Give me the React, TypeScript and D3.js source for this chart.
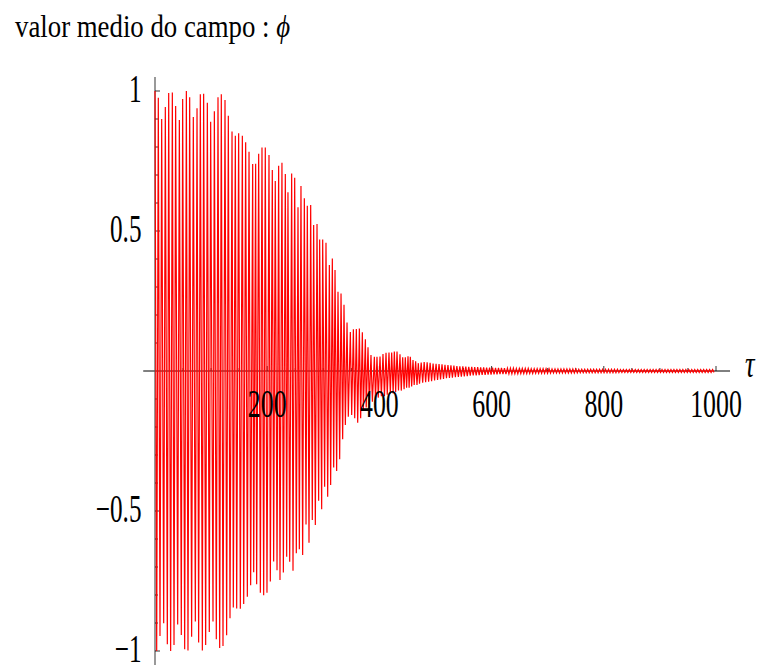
import React, { useEffect, useRef } from 'react';
import * as d3 from 'd3';

// upper peaks (maxima)
const upperTau = [0, 5.9, 11.9, 18.4, 24.4, 30.9, 36.8, 43.4, 49.3, 55.9, 61.8, 68.3, 74.9, 80.8, 86.7, 93.3, 99.2, 105.8, 112.3, 118.2,
  124.8, 130.7, 137.3, 143.2, 149.1, 155.7, 161.6, 167.6, 174.1, 179.4, 184.8, 190.7, 196.6, 203.2, 209.1, 214.4, 220.4, 226.3, 232.3, 237.0,
  243.6, 249.0, 254.9, 260.2, 266.2, 271.5, 277.5, 282.8, 288.8, 293.5, 298.9, 304.8, 310.8, 316.1, 320.9, 326.2, 331.6, 336.9, 342.3, 348.2,
  353.6, 358.9, 364.3, 369.6, 375.0, 379.7, 385.0, 391.0, 395.7, 401.1, 406.4, 411.8, 417.1, 421.9, 426.6, 431.4, 436.7, 441.5, 446.2, 451.0,
  455.1, 459.9, 464.6, 469.4];
const upperPhi = [1.0, 0.976, 0.90, 0.943, 0.993, 0.995, 0.946, 0.896, 0.971, 1.0, 0.978, 0.907, 0.938, 0.988, 0.99, 0.958, 0.89, 0.928, 0.978, 0.988,
  0.968, 0.912, 0.855, 0.84, 0.849, 0.84, 0.817, 0.783, 0.739, 0.74, 0.776, 0.798, 0.798, 0.771, 0.718, 0.679, 0.733, 0.744, 0.704, 0.638,
  0.705, 0.69, 0.585, 0.661, 0.617, 0.59, 0.593, 0.521, 0.525, 0.47, 0.47, 0.458, 0.379, 0.402, 0.361, 0.283, 0.277, 0.237, 0.173, 0.139,
  0.149, 0.15, 0.152, 0.138, 0.113, 0.085, 0.057, 0.051, 0.051, 0.052, 0.061, 0.065, 0.066, 0.066, 0.07, 0.07, 0.06, 0.049, 0.049, 0.053,
  0.051, 0.039, 0.035, 0.028];

// lower peaks (minima)
const lowerTau = [3.0, 8.9, 15.5, 22.0, 27.9, 33.9, 40.4, 46.9, 52.9, 58.8, 65.3, 71.9, 77.8, 84.4, 90.3, 96.8, 103.4, 109.3, 115.3, 121.2,
  127.7, 133.7, 139.6, 145.6, 152.1, 158.1, 164.6, 170.5, 175.9, 181.2, 187.8, 193.7, 199.6, 205.6, 211.5, 217.5, 222.8, 228.8, 234.7, 240.1,
  246.0, 251.9, 257.3, 263.2, 269.2, 274.5, 280.4, 285.8, 291.7, 297.1, 302.4, 307.8, 313.1, 318.5, 323.8, 329.2, 334.5, 339.3, 344.6, 350.6,
  356.0, 361.3, 366.6, 371.4, 376.5, 382.0, 387.5, 393.0, 398.0, 403.5, 409.0, 414.0, 419.5, 424.5, 429.0, 434.0, 439.0, 444.0, 448.5, 453.0,
  457.5, 462.0, 467.0, 471.5];
const lowerPhi = [-1.0, -0.946, -0.901, -0.976, -1.0, -0.979, -0.905, -0.943, -0.994, -0.998, -0.949, -0.895, -0.97, -0.998, -0.979, -0.932, -0.895, -0.958, -0.989, -0.982,
  -0.944, -0.883, -0.845, -0.848, -0.849, -0.832, -0.806, -0.765, -0.719, -0.762, -0.792, -0.801, -0.792, -0.752, -0.68, -0.712, -0.746, -0.72, -0.663, -0.681,
  -0.713, -0.651, -0.637, -0.657, -0.548, -0.613, -0.532, -0.55, -0.463, -0.494, -0.413, -0.449, -0.407, -0.345, -0.357, -0.315, -0.244, -0.193, -0.163, -0.157,
  -0.169, -0.185, -0.169, -0.139, -0.13, -0.12, -0.11, -0.10, -0.095, -0.09, -0.09, -0.085, -0.08, -0.08, -0.075, -0.07, -0.07, -0.065, -0.06, -0.06,
  -0.055, -0.05, -0.05, -0.045];

// tail after tau ~ 474: small oscillation, one peak pair per period
const tailStart = 474.5;
const tailPeriod = 5.3;
const tailUpper = [0.030, 0.032, 0.031, 0.029, 0.027, 0.026, 0.025, 0.024, 0.022, 0.021,
  0.020, 0.019, 0.018, 0.017, 0.017, 0.016, 0.015, 0.015, 0.014, 0.014,
  0.013, 0.013, 0.012, 0.012, 0.012, 0.011, 0.011, 0.011, 0.010, 0.010,
  0.010, 0.010, 0.009, 0.009, 0.009, 0.009, 0.009, 0.008, 0.008, 0.008,
  0.008, 0.008, 0.008, 0.008, 0.007, 0.007, 0.007, 0.007, 0.007, 0.007,
  0.007, 0.007, 0.007, 0.006, 0.006, 0.006, 0.006, 0.006, 0.006, 0.006,
  0.006, 0.006, 0.006, 0.006, 0.006, 0.006, 0.006, 0.005, 0.005, 0.005,
  0.005, 0.005, 0.005, 0.005, 0.005, 0.005, 0.005, 0.005, 0.005, 0.005,
  0.005, 0.005, 0.005, 0.005, 0.005, 0.005, 0.005, 0.005, 0.005, 0.005,
  0.005, 0.005, 0.005, 0.005, 0.005, 0.005, 0.005, 0.005, 0.005];
const tailLower = [-0.042, -0.040, -0.038, -0.036, -0.034, -0.032, -0.030, -0.028, -0.026, -0.025,
  -0.024, -0.022, -0.021, -0.020, -0.019, -0.018, -0.017, -0.016, -0.016, -0.015,
  -0.014, -0.014, -0.013, -0.013, -0.012, -0.012, -0.011, -0.011, -0.011, -0.010,
  -0.010, -0.010, -0.010, -0.009, -0.009, -0.009, -0.009, -0.009, -0.008, -0.008,
  -0.008, -0.008, -0.008, -0.008, -0.007, -0.007, -0.007, -0.007, -0.007, -0.007,
  -0.007, -0.007, -0.007, -0.006, -0.006, -0.006, -0.006, -0.006, -0.006, -0.006,
  -0.006, -0.006, -0.006, -0.006, -0.006, -0.006, -0.006, -0.005, -0.005, -0.005,
  -0.005, -0.005, -0.005, -0.005, -0.005, -0.005, -0.005, -0.005, -0.005, -0.005,
  -0.005, -0.005, -0.005, -0.005, -0.005, -0.005, -0.005, -0.005, -0.005, -0.005,
  -0.005, -0.005, -0.005, -0.005, -0.005, -0.005, -0.005, -0.005, -0.005];

const xTicks = [200, 400, 600, 800, 1000];
const yTicks = [-1, -0.5, 0.5, 1];
const yTickLabels = ['\u22121', '\u22120.5', '0.5', '1'];

const W = 763;
const H = 668;
const serif = '"Liberation Serif", "Times New Roman", serif';

export default function App() {
  const svgRef = useRef<SVGSVGElement>(null);

  useEffect(() => {
    if (!svgRef.current) return;
    const svg = d3.select(svgRef.current);
    svg.selectAll('*').remove();

    const x = d3.scaleLinear().domain([0, 1000]).range([155, 716]);
    const y = d3.scaleLinear().domain([-1, 1]).range([651, 91]);

    // build the series from the peaks
    const pts: [number, number][] = [];
    upperTau.forEach((t, i) => pts.push([t, upperPhi[i]]));
    lowerTau.forEach((t, i) => pts.push([t, lowerPhi[i]]));
    tailUpper.forEach((v, i) => pts.push([tailStart + i * tailPeriod, v]));
    tailLower.forEach((v, i) => pts.push([tailStart + (i + 0.5) * tailPeriod, v]));
    pts.sort((a, b) => a[0] - b[0]);
    const data = pts.filter(p => p[0] <= 1000);

    const line = d3.line<[number, number]>()
      .x(d => x(d[0]))
      .y(d => y(d[1]));

    // axes
    const g = svg.append('g');
    g.append('line')
      .attr('x1', x(-21)).attr('x2', x(1025))
      .attr('y1', y(0)).attr('y2', y(0))
      .attr('stroke', '#000').attr('stroke-width', 1);
    g.append('line')
      .attr('x1', x(0)).attr('x2', x(0))
      .attr('y1', y(1.05)).attr('y2', y(-1.05))
      .attr('stroke', '#555').attr('stroke-width', 1.2);

    // x ticks: major every 200, minor every 50
    const xMinor = d3.range(50, 1001, 50);
    g.selectAll('.xt').data(xMinor).enter().append('line')
      .attr('x1', d => x(d)).attr('x2', d => x(d))
      .attr('y1', y(0)).attr('y2', d => y(0) - (d % 200 === 0 ? 5 : 3))
      .attr('stroke', '#000').attr('stroke-width', 0.8);

    // y ticks: major every 0.5, minor every 0.1
    const yMinor = d3.range(-10, 11).filter(v => v !== 0).map(v => v / 10);
    g.selectAll('.yt').data(yMinor).enter().append('line')
      .attr('y1', d => y(d)).attr('y2', d => y(d))
      .attr('x1', x(0)).attr('x2', d => x(0) + (Math.abs(d * 10) % 5 === 0 ? 5 : 3))
      .attr('stroke', '#000').attr('stroke-width', 0.8);

    // series
    svg.append('path')
      .datum(data)
      .attr('d', line)
      .attr('fill', 'none')
      .attr('stroke', '#ff0000')
      .attr('stroke-width', 1.2)
      .attr('stroke-linejoin', 'miter');

    // tick labels
    svg.selectAll('.xl').data(xTicks).enter().append('text')
      .attr('transform', d => `translate(${x(d)},417) scale(0.63,1)`)
      .attr('text-anchor', 'middle')
      .style('font-family', serif)
      .style('font-size', '41px')
      .text(d => String(d));

    svg.selectAll('.yl').data(yTicks).enter().append('text')
      .attr('transform', d => `translate(141.5,${y(d) + 11}) scale(0.63,1)`)
      .attr('text-anchor', 'end')
      .style('font-family', serif)
      .style('font-size', '40px')
      .text((d, i) => yTickLabels[i]);

    // axis label tau
    svg.append('text')
      .attr('transform', `translate(745,377) scale(0.7,1)`)
      .style('font-family', serif)
      .style('font-style', 'italic')
      .style('font-size', '38px')
      .text('\u03c4');

    // title
    const title = svg.append('text')
      .attr('transform', `translate(15,36.7) scale(0.865,1)`)
      .style('font-family', serif)
      .style('font-size', '31px');
    title.append('tspan').text('valor medio do campo : ');
    title.append('tspan').style('font-style', 'italic').text('\u03d5');
  }, []);

  return (
    <svg
      ref={svgRef}
      width={W}
      height={H}
      style={{ position: 'absolute', left: 0, top: 0, background: '#fff' }}
    />
  );
}
